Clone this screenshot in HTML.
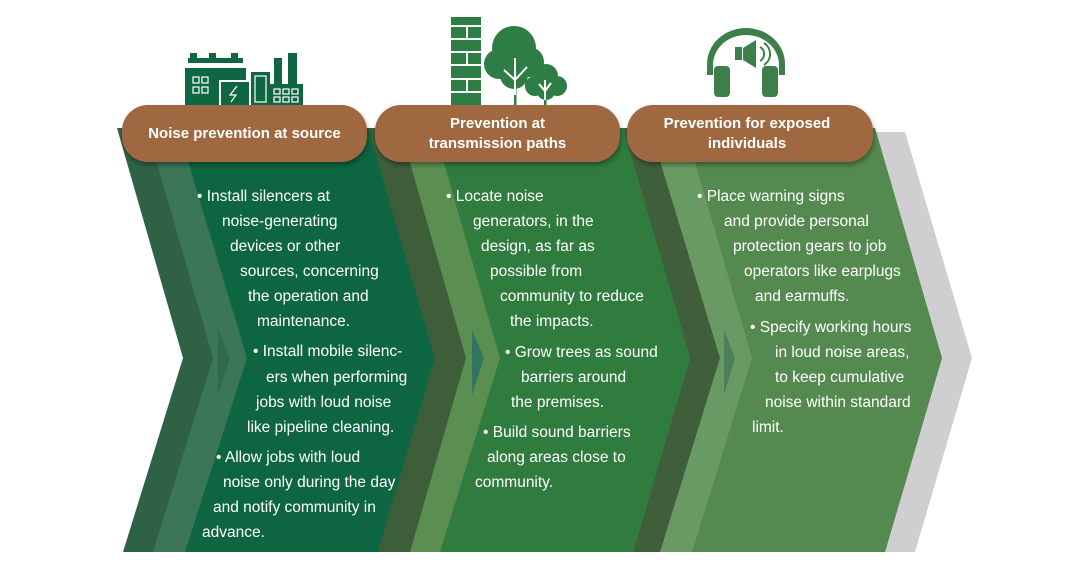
<!DOCTYPE html>
<html><head><meta charset="utf-8"><style>
html,body{margin:0;padding:0;background:#fff;}
body{width:1080px;height:574px;position:relative;overflow:hidden;font-family:"Liberation Sans",Arial,sans-serif;}
svg{position:absolute;left:0;top:0;}
.t{position:absolute;color:#fff;font-size:15.5px;white-space:nowrap;line-height:18px;}
.h{position:absolute;color:#fff;font-size:15px;font-weight:bold;text-align:center;line-height:20px;}
</style></head><body>
<svg width="1080" height="574" viewBox="0 0 1080 574">
<defs><filter id="sh" x="-10%" y="-20%" width="120%" height="150%"><feDropShadow dx="1" dy="3" stdDeviation="2.5" flood-color="#000" flood-opacity="0.35"/></filter></defs>
<polygon points="700,132 905,132 972,358 915,552 700,552" fill="#cfcfd1"/>
<polygon points="630,128 875,128 942,358 885,552 632,552 690,358" fill="#6a9a63"/>
<polygon points="685,128 875,128 942,358 885,552 692,552 752,358" fill="#548a4f"/>
<polygon points="724,330 735,358 724,395 724,358" fill="#4a7f5a"/>
<polygon points="380,128 650,128 720,358 660,552 380,552" fill="#3f5f3b"/>
<polygon points="376,128 623,128 690,358 633,552 383,552 435,358" fill="#5b8f52"/>
<polygon points="434,128 623,128 690,358 633,552 440,552 500,358" fill="#2f7c3e"/>
<polygon points="472,330 484,358 472,395 472,358" fill="#2f7660"/>
<polygon points="300,128 400,128 466,358 410,552 300,552" fill="#3e5e3a"/>
<polygon points="117,128 368,128 435,358 378,552 123,552 183,358" fill="#2f6146"/>
<polygon points="147,128 368,128 435,358 378,552 153,552 213,358" fill="#3b7658"/>
<polygon points="178,128 368,128 435,358 378,552 185,552 247,358" fill="#0d6641"/>
<polygon points="218,330 230,358 218,395 218,358" fill="#2f6a4c"/>
<rect x="122" y="105" width="245" height="57" rx="26" fill="#a0673f" filter="url(#sh)"/>
<rect x="375" y="105" width="245" height="57" rx="26" fill="#a0673f" filter="url(#sh)"/>
<rect x="627" y="105" width="246" height="57" rx="26" fill="#a0673f" filter="url(#sh)"/>
<g fill="#0f6642">
<rect x="188" y="58" width="55" height="5"/>
<rect x="190" y="53" width="7" height="6"/><rect x="209" y="53" width="7" height="6"/><rect x="231" y="53" width="7" height="6"/>
<rect x="185" y="68" width="61" height="37"/>
<rect x="219" y="80" width="30" height="25" fill="#fff"/>
<rect x="221" y="82" width="28" height="23"/>
<rect x="251" y="72" width="19" height="33"/>
<rect x="274" y="58" width="8" height="30"/><rect x="288" y="53" width="9" height="35"/>
<rect x="270" y="84" width="33" height="21"/>
</g>
<g fill="none" stroke="#fff" stroke-width="1.2">
<rect x="193" y="77" width="6" height="6"/><rect x="202" y="77" width="6" height="6"/>
<rect x="193" y="87" width="6" height="6"/><rect x="202" y="87" width="6" height="6"/>
<rect x="255" y="76" width="11" height="26"/>
<rect x="274" y="89" width="6" height="5"/><rect x="283" y="89" width="6" height="5"/><rect x="292" y="89" width="6" height="5"/>
<rect x="274" y="97" width="6" height="5"/><rect x="283" y="97" width="6" height="5"/><rect x="292" y="97" width="6" height="5"/>
<path d="M237 86 L230 95 L236 95 L231 102"/>
</g>
<g fill="#2e7d45">
<rect x="451" y="17" width="30" height="88"/>
<circle cx="514" cy="48" r="22"/><circle cx="499" cy="64" r="15"/><circle cx="529" cy="62" r="15"/><circle cx="514" cy="75" r="14"/>
<circle cx="546" cy="76" r="12"/><circle cx="535" cy="86" r="10"/><circle cx="557" cy="86" r="10"/><circle cx="546" cy="91" r="9"/>
<rect x="514" y="60" width="2.5" height="45"/><rect x="544" y="80" width="2.5" height="25"/>
</g>
<g stroke="#fff" stroke-width="2">
<line x1="451" y1="26" x2="481" y2="26"/><line x1="451" y1="39" x2="481" y2="39"/><line x1="451" y1="52" x2="481" y2="52"/>
<line x1="451" y1="65" x2="481" y2="65"/><line x1="451" y1="79" x2="481" y2="79"/><line x1="451" y1="92" x2="481" y2="92"/>
<line x1="467" y1="26" x2="467" y2="39"/><line x1="467" y1="52" x2="467" y2="65"/><line x1="467" y1="79" x2="467" y2="92"/>
</g>
<g stroke="#fff" stroke-width="2" fill="none">
<line x1="515" y1="58" x2="515" y2="95"/><path d="M504 70 L515 80 L527 67"/>
<line x1="545" y1="80" x2="545" y2="100"/><path d="M539 84 L545 91 L551 83"/>
</g>
<g fill="#3d7f4a">
<path d="M707 75 L707 64 A39 36 0 0 1 785 64 L785 75 L779 75 L779 65 A33 30 0 0 0 713 65 L713 75 Z"/>
<rect x="714" y="66" width="16" height="31" rx="4"/>
<rect x="762" y="66" width="16" height="31" rx="4"/>
<rect x="735" y="47" width="7" height="13"/>
<polygon points="743,48 756,40 756,68 743,60"/>
</g>
<g fill="none" stroke="#3d7f4a" stroke-width="2">
<path d="M760 47 A8 8 0 0 1 760 61"/><path d="M764 43 A13 13 0 0 1 764 65"/>
</g>
</svg>

<div class="h" style="left:122px;top:124px;width:245px;">Noise prevention at source</div>
<div class="h" style="left:375px;top:114px;width:245px;">Prevention at<br>transmission paths</div>
<div class="h" style="left:627px;top:114px;width:240px;">Prevention for exposed<br>individuals</div>

<div class="t" style="left:197px;top:188px">• Install silencers at</div>
<div class="t" style="left:222px;top:213px">noise-generating</div>
<div class="t" style="left:230px;top:238px">devices or other</div>
<div class="t" style="left:240px;top:263px">sources, concerning</div>
<div class="t" style="left:248px;top:288px">the operation and</div>
<div class="t" style="left:257px;top:313px">maintenance.</div>
<div class="t" style="left:253px;top:343px">• Install mobile silenc-</div>
<div class="t" style="left:266px;top:369px">ers when performing</div>
<div class="t" style="left:256px;top:394px">jobs with loud noise</div>
<div class="t" style="left:247px;top:419px">like pipeline cleaning.</div>
<div class="t" style="left:216px;top:449px">• Allow jobs with loud</div>
<div class="t" style="left:223px;top:474px">noise only during the day</div>
<div class="t" style="left:213px;top:499px">and notify community in</div>
<div class="t" style="left:202px;top:524px">advance.</div>

<div class="t" style="left:446px;top:188px">• Locate noise</div>
<div class="t" style="left:473px;top:213px">generators, in the</div>
<div class="t" style="left:481px;top:238px">design, as far as</div>
<div class="t" style="left:490px;top:263px">possible from</div>
<div class="t" style="left:500px;top:288px">community to reduce</div>
<div class="t" style="left:510px;top:313px">the impacts.</div>
<div class="t" style="left:505px;top:344px">• Grow trees as sound</div>
<div class="t" style="left:521px;top:369px">barriers around</div>
<div class="t" style="left:511px;top:394px">the premises.</div>
<div class="t" style="left:483px;top:424px">• Build sound barriers</div>
<div class="t" style="left:487px;top:449px">along areas close to</div>
<div class="t" style="left:475px;top:474px">community.</div>

<div class="t" style="left:697px;top:188px">• Place warning signs</div>
<div class="t" style="left:724px;top:213px">and provide personal</div>
<div class="t" style="left:733px;top:238px">protection gears to job</div>
<div class="t" style="left:744px;top:263px">operators like earplugs</div>
<div class="t" style="left:755px;top:288px">and earmuffs.</div>
<div class="t" style="left:750px;top:319px">• Specify working hours</div>
<div class="t" style="left:775px;top:344px">in loud noise areas,</div>
<div class="t" style="left:775px;top:369px">to keep cumulative</div>
<div class="t" style="left:765px;top:394px">noise within standard</div>
<div class="t" style="left:752px;top:419px">limit.</div>
</body></html>
